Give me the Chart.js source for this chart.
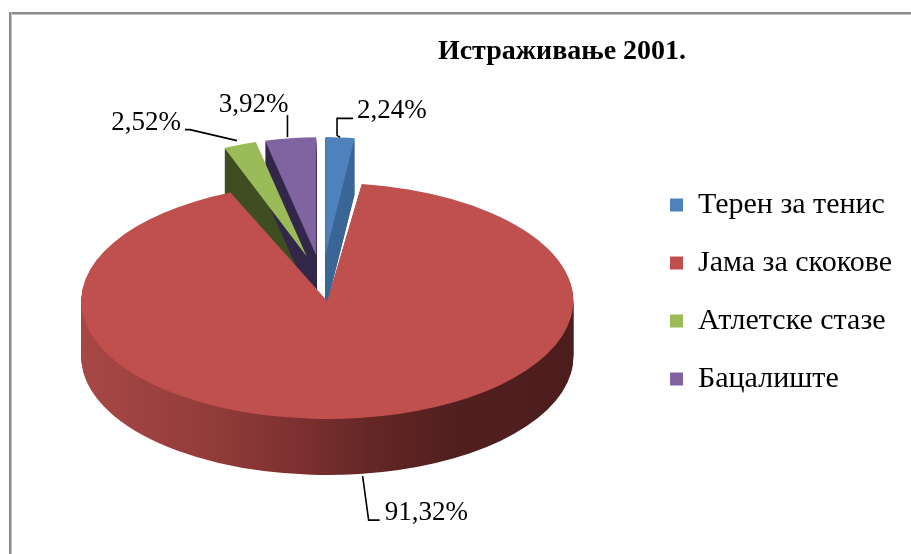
<!DOCTYPE html>
<html>
<head>
<meta charset="utf-8">
<script src="https://cdn.jsdelivr.net/npm/chart.js@4.4.0/dist/chart.umd.min.js"></script>
<style>
html,body{margin:0;padding:0;background:#fff;}
#wrap{position:relative;width:911px;height:554px;overflow:hidden;}
#frameTop{position:absolute;left:9px;top:12px;width:902px;height:2px;background:#8a8a8a;border-bottom:1px solid #c4c4c4;}
#frameLeft{position:absolute;left:9px;top:12px;width:2px;height:542px;background:#8a8a8a;border-right:1px solid #c4c4c4;}
canvas{position:absolute;left:0;top:0;}
</style>
</head>
<body>
<div id="wrap">
<canvas id="c" width="911" height="554"></canvas>
<div id="frameTop"></div><div id="frameLeft"></div>
</div>
<script>
// ---- data ----
const chartTitle = 'Истраживање 2001.';
const categories = ['Терен за тенис', 'Јама за скокове', 'Атлетске стазе', 'Бацалиште'];
const values = [2.24, 91.32, 2.52, 3.92];
const valueLabels = ['2,24%', '91,32%', '2,52%', '3,92%'];

// ---- style ----
const topColors  = ['#4f81bd', '#c0504d', '#9bbb59', '#8064a2'];
const sideColors = ['#3b6797', null, '#3f4e22', '#33284a'];
const explode    = [56, 40, 56, 56];
const backSlice  = [true, false, true, true];
const centerX = 322, centerY = 282, tilt = 0.48, depth = 56, backScaleX = 0.85;
// leader lines relative to anchors, text position, text align
const leaders = [
  {pts: [[0,0],[-3,-2],[-3,-19],[13,-19]], text: [17,-19], align: 'left'},
  {pts: [[3,2],[9,46],[20,46]], text: [25,46], align: 'left'},
  {pts: [[-3,-4],[-50,-15],[-55,-15]], text: [-59,-15], align: 'right'},
  {pts: [[-3,-1],[-3,-23]], text: [-2,-26], align: 'right'}
];
const serif = '"Liberation Serif", "Times New Roman", serif';
const labelFont = '27px ' + serif;

function sliceParams(el, i) {
  const mid = (el.startAngle + el.endAngle) / 2;
  const xs = backSlice[i] ? backScaleX : 1;
  return {mid, xs, ex: Math.cos(mid) * explode[i], ey: Math.sin(mid) * explode[i]};
}
function applySlice(ctx, el, i, d) {
  const p = sliceParams(el, i);
  ctx.translate(centerX + p.ex * p.xs, centerY + d + p.ey * tilt);
  ctx.scale(p.xs, tilt);
  ctx.translate(-el.x, -el.y);
  return p;
}
function drawEl(ctx, el, fill) {
  const saved = el.options;
  el.options = Object.assign({}, saved, {backgroundColor: fill, borderWidth: 0});
  el.draw(ctx);
  el.options = saved;
}
function drawSide(ctx, el, i) {
  let fill = sideColors[i];
  if (!fill) {
    const p = sliceParams(el, i);
    const off = -centerX - p.ex * p.xs + el.x;
    const g = ctx.createLinearGradient(80 + off, 0, 575 + off, 0);
    g.addColorStop(0.00, '#a84846');
    g.addColorStop(0.25, '#933d3b');
    g.addColorStop(0.45, '#7b302f');
    g.addColorStop(0.60, '#622625');
    g.addColorStop(0.75, '#521f1f');
    g.addColorStop(1.00, '#4c1d1d');
    fill = g;
  }
  for (let d = depth; d >= 1; d--) {
    ctx.save();
    applySlice(ctx, el, i, d);
    drawEl(ctx, el, fill);
    ctx.restore();
  }
}
function drawTop(ctx, el, i) {
  ctx.save();
  applySlice(ctx, el, i, 0);
  drawEl(ctx, el, topColors[i]);
  ctx.restore();
}

const pie3d = {
  id: 'pie3d',
  beforeDatasetsDraw(chart) {
    const ctx = chart.ctx;
    const arcs = chart.getDatasetMeta(0).data;
    const back = [], front = [];
    arcs.forEach((el, i) => (backSlice[i] ? back : front).push(i));
    back.forEach(i => drawSide(ctx, arcs[i], i));
    back.forEach(i => drawTop(ctx, arcs[i], i));
    front.forEach(i => drawSide(ctx, arcs[i], i));
    front.forEach(i => drawTop(ctx, arcs[i], i));
    return false;
  },
  afterDraw(chart) {
    const ctx = chart.ctx;
    const arcs = chart.getDatasetMeta(0).data;
    arcs.forEach((el, i) => {
      const p = sliceParams(el, i);
      const r = el.outerRadius;
      const d = backSlice[i] ? 0 : depth;
      const ax = centerX + (p.ex + Math.cos(p.mid) * r) * p.xs;
      const ay = centerY + d + (p.ey + Math.sin(p.mid) * r) * tilt;
      const L = leaders[i];
      ctx.save();
      ctx.strokeStyle = '#000';
      ctx.lineWidth = 1.6;
      ctx.beginPath();
      L.pts.forEach((pt, j) => {
        if (j === 0) ctx.moveTo(ax + pt[0], ay + pt[1]);
        else ctx.lineTo(ax + pt[0], ay + pt[1]);
      });
      ctx.stroke();
      ctx.fillStyle = '#000';
      ctx.font = labelFont;
      ctx.textAlign = L.align;
      ctx.textBaseline = 'alphabetic';
      ctx.fillText(valueLabels[i], ax + L.text[0], ay + L.text[1]);
      ctx.restore();
    });
  }
};

new Chart(document.getElementById('c'), {
  type: 'pie',
  data: {
    labels: categories,
    datasets: [{
      data: values,
      backgroundColor: topColors,
      borderWidth: 0,
      radius: 246,
      clip: false
    }]
  },
  options: {
    responsive: false,
    animation: false,
    events: [],
    devicePixelRatio: 1,
    layout: {padding: {left: 222, right: 9, top: 0, bottom: -30}},
    plugins: {
      title: {
        display: true,
        text: chartTitle,
        color: '#000',
        font: {family: serif, size: 28, weight: 'bold', lineHeight: 1.2},
        padding: {top: 35, bottom: 20}
      },
      legend: {
        display: true,
        position: 'right',
        align: 'center',
        labels: {
          color: '#000',
          boxWidth: 13,
          boxHeight: 13,
          padding: 28,
          font: {family: serif, size: 30}
        }
      },
      tooltip: {enabled: false}
    }
  },
  plugins: [pie3d]
});
</script>
</body>
</html>
